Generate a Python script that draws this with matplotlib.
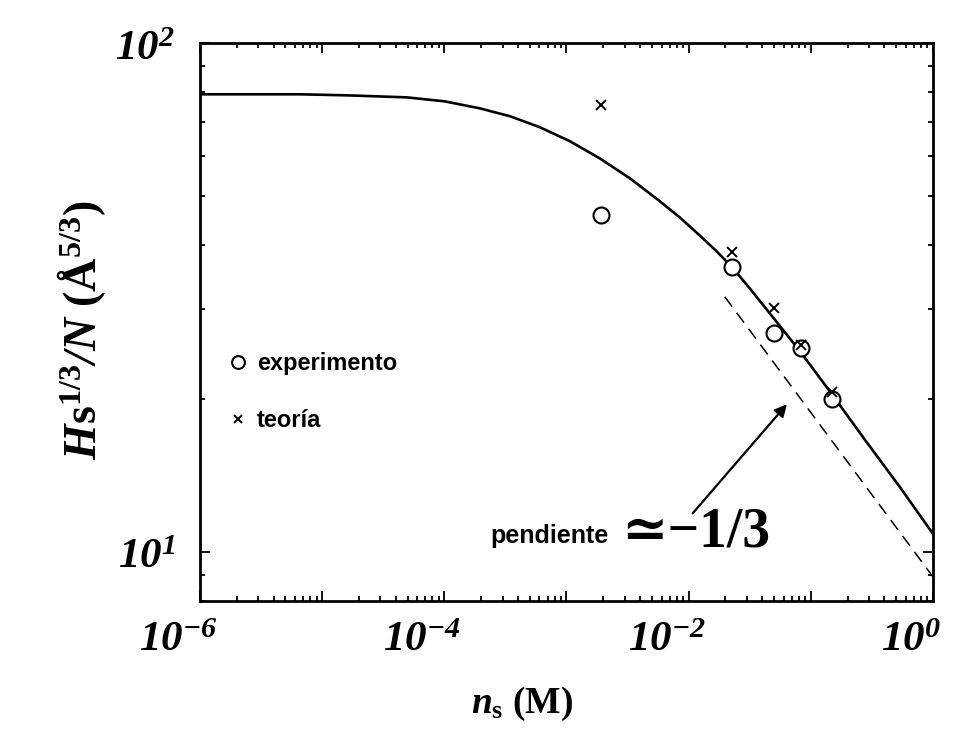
import numpy as np
import matplotlib
matplotlib.use("Agg")
import matplotlib.pyplot as plt
from matplotlib.ticker import LogLocator, NullFormatter
from matplotlib.transforms import ScaledTranslation

# math text: roman slot is bold italic (digits are never italicised in the 'it' slot)
plt.rcParams['mathtext.fontset'] = 'custom'
plt.rcParams['mathtext.rm'] = 'Liberation Serif:bold:italic'
plt.rcParams['mathtext.it'] = 'Liberation Serif:bold:italic'
plt.rcParams['mathtext.bf'] = 'Liberation Serif:bold'

# --- data (concentration in M, Hs^1/3/N in A^5/3) ---
curve_x = [1e-6, 6.59e-6, 1.69e-5, 4.95e-5, 1.01e-4, 1.96e-4, 3.45e-4, 6.07e-4,
           1.07e-3, 1.88e-3, 3.31e-3, 5.61e-3, 8.49e-3, 1.24e-2, 1.67e-2, 2.26e-2,
           3.18e-2, 4.63e-2, 8.15e-2, 0.149, 0.288, 0.537, 1.0]
curve_y = [79.3, 79.3, 78.9, 78.2, 76.8, 74.4, 71.8, 68.3,
           64.1, 59.3, 54.2, 49.2, 45.4, 41.8, 39.1, 36.3,
           32.9, 29.4, 24.8, 20.4, 16.4, 13.4, 10.85]

slope_x = [0.0198, 1.0]
slope_y = [31.7, 8.93]

conc = [1.9e-3, 0.0226, 0.05, 0.083, 0.15]
experimento = [46.0, 36.3, 26.9, 25.1, 20.0]
teoria = [75.5, 38.9, 30.1, 25.5, 20.6]

xtick_vals = [1e-6, 1e-5, 1e-4, 1e-3, 1e-2, 1e-1, 1e0]
xtick_labels = [r'$10^{-6}$', '', r'$10^{-4}$', '', r'$10^{-2}$', '', r'$10^{0}$']
ytick_vals = [10, 100]
ytick_labels = [r'$10^{1}$', r'$10^{2}$']

fig = plt.figure(figsize=(9.58, 7.4), dpi=100)
ax = fig.add_axes([0.2088, 0.1878, 0.765, 0.754])

ax.plot(curve_x, curve_y, color='black', lw=1.9, zorder=3)
ax.plot(slope_x, slope_y, color='black', lw=1.1, dashes=(8, 5), zorder=3)
ax.plot(conc, experimento, 'o', ms=11.5, mfc='white', mec='black', mew=1.5,
        label='experimento', zorder=4)
ax.plot(conc, teoria, 'x', ms=7.5, color='black', mew=1.4, label='teoría', zorder=5)

ax.set_xscale('log')
ax.set_yscale('log')
ax.set_xlim(1e-6, 1)
ax.set_ylim(8, 100)

ax.set_xticks(xtick_vals, labels=xtick_labels)
ax.set_yticks(ytick_vals, labels=ytick_labels)
ax.xaxis.set_minor_locator(LogLocator(base=10, subs=np.arange(2, 10), numticks=20))
ax.yaxis.set_minor_locator(LogLocator(base=10, subs=np.arange(2, 10), numticks=20))
ax.xaxis.set_minor_formatter(NullFormatter())
ax.yaxis.set_minor_formatter(NullFormatter())
ax.tick_params(which='both', direction='in', top=True, right=True, width=1.3)
ax.tick_params(which='major', length=7)
ax.tick_params(which='minor', length=3.5)
ax.tick_params(axis='x', which='major', labelsize=31, pad=12)
ax.tick_params(axis='y', which='major', labelsize=31, pad=18)
for spine in ax.spines.values():
    spine.set_linewidth(2)

# shift x tick labels a little left of their ticks
shift = ScaledTranslation(-22 / 100, 0, fig.dpi_scale_trans)
for lab in ax.get_xticklabels():
    lab.set_transform(lab.get_transform() + shift)

ax.set_xlabel(r'$n_{\mathbf{s}}$ (M)', fontsize=27, fontweight='bold',
              family='Liberation Serif')
ax.xaxis.set_label_coords(0.44, -0.15)
ax.set_ylabel(r'$H\mathbf{s}^{\mathbf{1/3}}/N$ (Å$^{\mathbf{5/3}}$)', fontsize=33,
              fontweight='bold', family='Liberation Serif')
ax.yaxis.set_label_coords(-0.125, 0.485)

leg = ax.legend(loc='upper left', bbox_to_anchor=(0.01, 0.484), frameon=False,
                handlelength=0.8, handletextpad=0.4, labelspacing=1.45,
                markerscale=0.8, prop={'family': 'Liberation Sans', 'weight': 'bold', 'size': 17})

ax.text(0.396, 0.104, 'pendiente', transform=ax.transAxes, fontsize=18,
        fontweight='bold', family='Liberation Sans', ha='left', va='baseline')
ax.text(0.575, 0.098, '≃−1/3', transform=ax.transAxes, fontsize=40,
        fontweight='bold', family=['Liberation Serif', 'DejaVu Serif'],
        ha='left', va='baseline')
ax.annotate('', xy=(0.0638, 19.5), xytext=(0.0108, 11.9),
            arrowprops=dict(arrowstyle='-|>', color='black', lw=1.6,
                            mutation_scale=18, shrinkA=0, shrinkB=0))

fig.savefig('out.png', dpi=100)
